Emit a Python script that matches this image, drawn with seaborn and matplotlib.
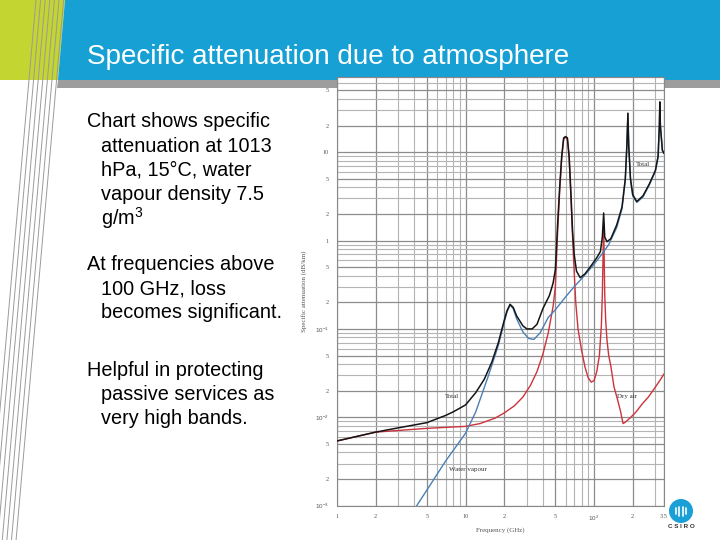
import numpy as np
import pandas as pd
import matplotlib
matplotlib.use("Agg")
import matplotlib.pyplot as plt
import seaborn as sns
from matplotlib.patches import Polygon, Ellipse
from matplotlib.lines import Line2D

# ---------------- data ----------------
total_f = [1, 2, 3, 5, 7, 8, 10, 12, 14, 16, 18, 20, 21, 22.2, 23.5, 25, 28, 30, 33, 36,
           40, 45, 48, 50, 52, 54, 56, 58, 60, 62, 64, 66, 68, 70, 73, 78, 85, 95, 105,
           112, 116, 118.75, 121, 126, 135, 150, 165, 175, 180, 183.3, 186, 192, 200,
           215, 240, 270, 300, 315, 322, 325, 328, 340, 350]
total_v = [0.0054, 0.0068, 0.0076, 0.0087, 0.0105, 0.0115, 0.0138, 0.019, 0.027, 0.042,
           0.07, 0.125, 0.16, 0.19, 0.175, 0.14, 0.108, 0.10, 0.10, 0.113,
           0.17, 0.24, 0.33, 0.47, 1.5, 4.0, 9.0, 14.5, 15.0, 14.5, 9.0, 3.5, 1.3, 0.7,
           0.45, 0.38, 0.42, 0.52, 0.64, 0.75, 1.1, 2.05, 1.1, 0.97, 1.05, 1.5, 2.4,
           5.0, 12.0, 27.6, 12.0, 5.0, 3.3, 2.76, 3.2, 4.4, 6.2, 9.0, 20.0, 37.0, 20.0,
           10.5, 9.7]

water_f = [4.17, 5, 7, 10, 12, 15, 18, 20, 21, 22.2, 23.5, 25, 28, 31, 34, 38, 44, 50,
           60, 70, 80, 90, 100, 115, 130, 150, 165, 175, 180, 183.3, 186, 192, 200, 215,
           240, 270, 300, 315, 322, 325, 328, 340, 350]
water_v = [0.001, 0.0015, 0.0032, 0.0066, 0.0115, 0.029, 0.065, 0.12, 0.155, 0.186,
           0.17, 0.13, 0.092, 0.078, 0.076, 0.09, 0.135, 0.165, 0.23, 0.30, 0.37, 0.45,
           0.54, 0.70, 0.90, 1.4, 2.3, 4.9, 11.8, 27.4, 11.8, 4.9, 3.2, 2.7, 3.1, 4.3,
           6.1, 8.9, 19.8, 36.8, 19.8, 10.4, 9.6]

dry_f = [1, 2, 3, 5, 10, 13, 17, 20, 24, 28, 32, 36, 40, 44, 48, 50, 52, 54, 56, 58,
         60, 62, 64, 66, 68, 70, 72, 75, 80, 85, 90, 95, 100, 105, 110, 114, 116,
         118.75, 121, 123, 126, 130, 135, 143, 152, 160, 168, 175, 190, 210, 240, 265,
         300, 330, 350]
dry_v = [0.0054, 0.0068, 0.0071, 0.0075, 0.0079, 0.0085, 0.0098, 0.0112, 0.0135, 0.017,
         0.023, 0.033, 0.052, 0.09, 0.18, 0.3, 1.2, 3.6, 8.5, 14.0,
         14.8, 14.0, 8.5, 3.2, 1.1, 0.45, 0.2, 0.1, 0.057, 0.037, 0.028, 0.025, 0.026,
         0.033, 0.05, 0.11, 0.25, 1.6, 0.25, 0.13, 0.075, 0.05, 0.038, 0.022, 0.016,
         0.012, 0.0085, 0.0088, 0.0098, 0.0113, 0.0145, 0.017, 0.022, 0.027, 0.031]

ytick_vals = [1e-3, 2e-3, 5e-3, 1e-2, 2e-2, 5e-2, 1e-1, 2e-1, 5e-1, 1, 2, 5, 10, 20, 50]
ytick_labels = [r'$10^{-3}$', '2', '5', r'$10^{-2}$', '2', '5', r'$10^{-1}$', '2', '5',
                '1', '2', '5', '10', '2', '5']
xtick_vals = [1, 2, 5, 10, 20, 50, 100, 200, 350]
xtick_labels = ['1', '2', '5', '10', '2', '5', r'$10^{2}$', '2', '3.5']

title = "Specific attenuation due to atmosphere"
body_lines = [
    ("Chart shows specific", 87, 122),
    ("attenuation at 1013", 101, 146),
    ("hPa, 15°C, water", 101, 170),
    ("vapour density 7.5", 101, 194),
    (r"g/m$^{3}$", 101, 218),
    ("At frequencies above", 87, 265),
    ("100 GHz, loss", 101, 289),
    ("becomes significant.", 101, 313),
    ("Helpful in protecting", 87, 371),
    ("passive services as", 101, 395),
    ("very high bands.", 101, 419),
]

# ---------------- style ----------------
sns.set_style("white")
plt.rcParams['font.family'] = ['Liberation Sans', 'DejaVu Sans']
plt.rcParams['mathtext.fontset'] = 'custom'
plt.rcParams['mathtext.rm'] = 'Liberation Sans'
plt.rcParams['mathtext.it'] = 'Liberation Sans'

W, H = 720, 540
fig = plt.figure(figsize=(7.2, 5.4), dpi=100)
fig.patch.set_facecolor('white')

def P(x, y):
    return (x / W, 1 - y / H)

# header shapes
green = Polygon([P(0, 0), P(65, 0), P(58, 80), P(0, 80)], closed=True,
                transform=fig.transFigure, facecolor='#c3d530', edgecolor='none', zorder=-3)
blue = Polygon([P(65, 0), P(720, 0), P(720, 80), P(58, 80)], closed=True,
               transform=fig.transFigure, facecolor='#17a0d3', edgecolor='none', zorder=-3)
grey = Polygon([P(58, 80), P(720, 80), P(720, 88), P(57, 88)], closed=True,
               transform=fig.transFigure, facecolor='#9d9d9d', edgecolor='none', zorder=-3)
for p in (green, blue, grey):
    fig.add_artist(p)
for i in range(7):
    x0 = 36 + 4.6 * i
    x1 = x0 - 0.088 * 560
    fig.add_artist(Line2D([x0 / W, x1 / W], [1, 1 - 560 / H], transform=fig.transFigure,
                          color='#9a9a9a', lw=0.7, zorder=-2))

fig.text(*P(87, 57), title, color='white', fontsize=20.1, va='center', ha='left')
for txt, x, y in body_lines:
    fig.text(*P(x, y), txt, color='black', fontsize=14.3, va='center', ha='left')

# ---------------- chart ----------------
ax = fig.add_axes([337 / W, 1 - 505.7 / H, 327 / W, 428.7 / H])
ax.set_facecolor('white')
ax.set_xscale('log')
ax.set_yscale('log')

df_t = pd.DataFrame({'f': total_f, 'a': total_v})
df_w = pd.DataFrame({'f': water_f, 'a': water_v})
df_d = pd.DataFrame({'f': dry_f, 'a': dry_v})
sns.lineplot(data=df_d, x='f', y='a', ax=ax, color='#cc333b', lw=1.0, estimator=None, zorder=3)
sns.lineplot(data=df_w, x='f', y='a', ax=ax, color='#4b7fb6', lw=1.0, estimator=None, zorder=4)
sns.lineplot(data=df_t, x='f', y='a', ax=ax, color='#151515', lw=1.1, estimator=None, zorder=5)

ax.set_xlim(1, 350)
ax.set_ylim(1e-3, 70.8)
ax.set_xticks(xtick_vals)
ax.set_xticklabels(xtick_labels)
ax.set_yticks(ytick_vals)
ax.set_yticklabels(ytick_labels)
ax.xaxis.set_minor_locator(matplotlib.ticker.LogLocator(base=10, subs=np.arange(2, 10)))
ax.yaxis.set_minor_locator(matplotlib.ticker.LogLocator(base=10, subs=np.arange(2, 10)))
ax.xaxis.set_minor_formatter(matplotlib.ticker.NullFormatter())
ax.yaxis.set_minor_formatter(matplotlib.ticker.NullFormatter())
ax.grid(True, which='minor', color='#b4b4b4', lw=0.8)
ax.grid(True, which='major', color='#8c8c8c', lw=0.9)
ax.tick_params(which='both', length=0, labelsize=4.5, colors='#555555', pad=6)
for lab in ax.get_xticklabels() + ax.get_yticklabels():
    lab.set_family('Liberation Serif')
for s in ax.spines.values():
    s.set_color('#888888')
    s.set_linewidth(0.8)
ax.set_xlabel('Frequency (GHz)', fontsize=5, color='#555555', family='Liberation Serif', labelpad=3)
ax.set_ylabel('Specific attenuation (dB/km)', fontsize=5, color='#555555', family='Liberation Serif', labelpad=6)

lab_kw = dict(fontsize=5, color='#333333', family='Liberation Serif', ha='center', va='center')
ax.text(240, 7.3, 'Total', **lab_kw, zorder=6)
ax.text(7.85, 0.017, 'Total', **lab_kw)
ax.text(180, 0.017, 'Dry air', **lab_kw)
ax.text(10.4, 0.0026, 'Water vapour', **lab_kw)

# logo
fig.add_artist(Ellipse(P(681, 511), 24 / W, 24 / H, transform=fig.transFigure,
                       facecolor='#1a9fd6', edgecolor='none', zorder=2))
for dx, hh in [(-5, 6), (-2, 9), (2, 9), (5, 6)]:
    fig.add_artist(Line2D([(681 + dx) / W] * 2, [1 - (511 - hh / 2) / H, 1 - (511 + hh / 2) / H],
                          transform=fig.transFigure, color='white', lw=1.2, zorder=3))
fig.text(*P(681, 527), 'C S I R O', fontsize=4.5, color='#333333', ha='center', va='center',
         weight='bold')

fig.savefig('out.png', dpi=100)
